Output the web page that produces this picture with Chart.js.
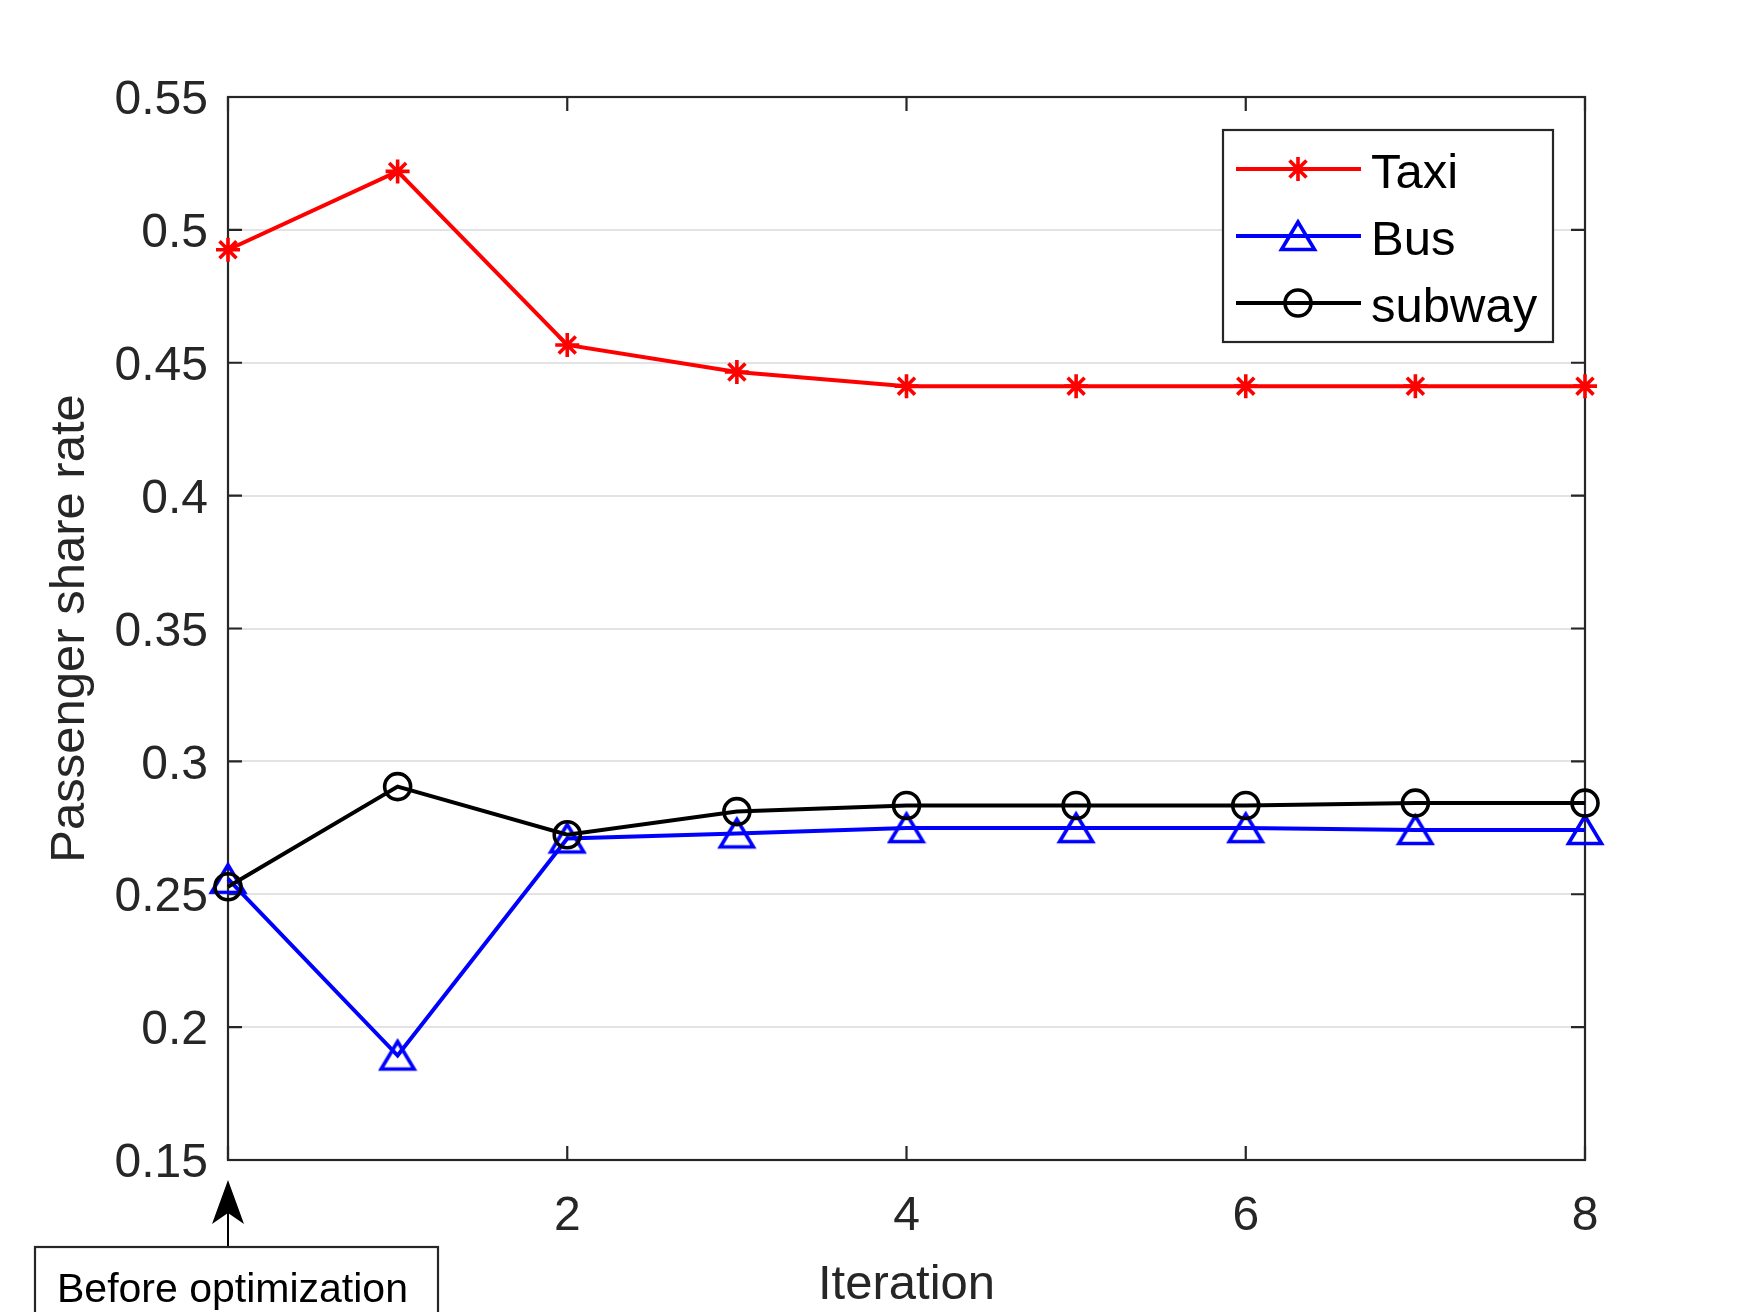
<!DOCTYPE html>
<html>
<head>
<meta charset="utf-8">
<script src="https://cdn.jsdelivr.net/npm/chart.js@4/dist/chart.umd.min.js"></script>
<style>
  html, body { margin: 0; padding: 0; background: #ffffff; }
  #c { display: block; }
</style>
</head>
<body>
<canvas id="c" width="1750" height="1312"></canvas>
<script>
// ---- data ----
const iterations = [0, 1, 2, 3, 4, 5, 6, 7, 8];
const taxiShare = [0.4925, 0.5220, 0.4567, 0.4465, 0.4412, 0.4412, 0.4412, 0.4412, 0.4412];
const busShare = [0.2558, 0.1893, 0.2710, 0.2729, 0.2749, 0.2749, 0.2749, 0.2742, 0.2742];
const subwayShare = [0.2528, 0.2905, 0.2724, 0.2811, 0.2834, 0.2834, 0.2834, 0.2843, 0.2843];
const seriesNames = ['Taxi', 'Bus', 'subway'];
const xTicks = [0, 2, 4, 6, 8];
const xTickLabels = ['', '2', '4', '6', '8'];
const yTicks = [0.15, 0.2, 0.25, 0.3, 0.35, 0.4, 0.45, 0.5, 0.55];
const yTickLabels = ['0.15', '0.2', '0.25', '0.3', '0.35', '0.4', '0.45', '0.5', '0.55'];
const xTitle = 'Iteration';
const yTitle = 'Passenger share rate';
const annotationText = 'Before optimization';

// ---- styles ----
const AXIS = '#262626';
const FONT = '"Liberation Sans", Arial, Helvetica, sans-serif';
const LW = 4;
const MW = 3.6;

function makeTriangle(color) {
  const c = document.createElement('canvas');
  c.width = 40; c.height = 36;
  const g = c.getContext('2d');
  g.strokeStyle = color;
  g.lineWidth = MW;
  g.lineJoin = 'miter';
  g.beginPath();
  g.moveTo(20, 4);
  g.lineTo(3.5, 31.5);
  g.lineTo(36.5, 31.5);
  g.closePath();
  g.stroke();
  return c;
}
const triImg = makeTriangle('#0000ff');

const pts = (arr) => iterations.map((x, i) => ({ x: x, y: arr[i] }));

const datasets = [
  { label: seriesNames[0], data: pts(taxiShare), borderColor: '#ff0000', backgroundColor: 'rgba(0,0,0,0)',
    pointStyle: 'star', pointRadius: 12, pointBorderWidth: MW, pointBorderColor: '#ff0000',
    pointBackgroundColor: 'rgba(0,0,0,0)', borderWidth: LW, order: 2 },
  { label: seriesNames[1], data: pts(busShare), borderColor: '#0000ff', backgroundColor: 'rgba(0,0,0,0)',
    pointStyle: triImg, pointRadius: 16, pointBorderWidth: MW, pointBorderColor: '#0000ff',
    pointBackgroundColor: 'rgba(0,0,0,0)', borderWidth: LW, order: 1 },
  { label: seriesNames[2], data: pts(subwayShare), borderColor: '#000000', backgroundColor: 'rgba(0,0,0,0)',
    pointStyle: 'circle', pointRadius: 13, pointBorderWidth: MW, pointBorderColor: '#000000',
    pointBackgroundColor: 'rgba(0,0,0,0)', borderWidth: LW, order: 0 }
];
datasets.forEach(d => { d.tension = 0; d.clip = false; d.fill = false; d.pointHoverRadius = d.pointRadius; });

// frame + inward ticks
const framePlugin = {
  id: 'frame',
  beforeDatasetsDraw(chart) {
    const { ctx, chartArea: a, scales } = chart;
    const xs = scales.x, ys = scales.y;
    ctx.save();
    ctx.strokeStyle = AXIS;
    ctx.lineWidth = 2.2;
    ctx.strokeRect(a.left, a.top, a.right - a.left, a.bottom - a.top);
    const tl = 14;
    ctx.beginPath();
    yTicks.forEach(v => {
      const py = ys.getPixelForValue(v);
      ctx.moveTo(a.left, py); ctx.lineTo(a.left + tl, py);
      ctx.moveTo(a.right, py); ctx.lineTo(a.right - tl, py);
    });
    xTicks.forEach(v => {
      const px = xs.getPixelForValue(v);
      ctx.moveTo(px, a.bottom); ctx.lineTo(px, a.bottom - tl);
      ctx.moveTo(px, a.top); ctx.lineTo(px, a.top + tl);
    });
    ctx.stroke();
    ctx.restore();
  }
};

function drawMarker(ctx, ds, x, y) {
  ctx.save();
  ctx.strokeStyle = ds.pointBorderColor;
  ctx.lineWidth = ds.pointBorderWidth;
  const r = ds.pointRadius;
  if (ds.pointStyle === 'star') {
    ctx.beginPath();
    ctx.moveTo(x, y - r); ctx.lineTo(x, y + r);
    ctx.moveTo(x - r, y); ctx.lineTo(x + r, y);
    const o = Math.cos(Math.PI / 4) * r;
    ctx.moveTo(x - o, y - o); ctx.lineTo(x + o, y + o);
    ctx.moveTo(x - o, y + o); ctx.lineTo(x + o, y - o);
    ctx.stroke();
  } else if (ds.pointStyle === 'circle') {
    ctx.beginPath();
    ctx.arc(x, y, r, 0, Math.PI * 2);
    ctx.stroke();
  } else {
    const img = ds.pointStyle;
    ctx.drawImage(img, x - img.width / 2, y - img.height / 2);
  }
  ctx.restore();
}

const legendPlugin = {
  id: 'boxLegend',
  afterDraw(chart) {
    const ctx = chart.ctx;
    const L = 1223, T = 130, R = 1553, B = 342;
    ctx.save();
    ctx.fillStyle = '#ffffff';
    ctx.fillRect(L, T, R - L, B - T);
    ctx.strokeStyle = AXIS;
    ctx.lineWidth = 2.2;
    ctx.strokeRect(L, T, R - L, B - T);
    const rows = [169, 236, 303];
    chart.data.datasets.forEach((ds, i) => {
      const y = rows[i];
      ctx.strokeStyle = ds.borderColor;
      ctx.lineWidth = LW;
      ctx.beginPath();
      ctx.moveTo(1236, y); ctx.lineTo(1361, y);
      ctx.stroke();
      drawMarker(ctx, ds, 1298, y);
      ctx.fillStyle = '#000000';
      ctx.font = '49px ' + FONT;
      ctx.textAlign = 'left';
      ctx.textBaseline = 'alphabetic';
      ctx.fillText(ds.label, 1371, y + 19);
    });
    ctx.restore();
  }
};

const annotationPlugin = {
  id: 'annot',
  afterDraw(chart) {
    const ctx = chart.ctx;
    const a = chart.chartArea;
    const x0 = chart.scales.x.getPixelForValue(0);
    const tip = a.bottom + 20;
    const boxTop = a.bottom + 87;
    ctx.save();
    ctx.strokeStyle = '#000000';
    ctx.fillStyle = '#000000';
    ctx.lineWidth = 2;
    ctx.beginPath();
    ctx.moveTo(x0, boxTop); ctx.lineTo(x0, tip + 30);
    ctx.stroke();
    ctx.beginPath();
    ctx.moveTo(x0, tip);
    ctx.lineTo(x0 - 16, tip + 44);
    ctx.lineTo(x0, tip + 33);
    ctx.lineTo(x0 + 16, tip + 44);
    ctx.closePath();
    ctx.fill();
    ctx.strokeStyle = AXIS;
    ctx.lineWidth = 2.2;
    ctx.strokeRect(35, boxTop, 403, 90);
    ctx.fillStyle = '#000000';
    ctx.font = '41px ' + FONT;
    ctx.textAlign = 'left';
    ctx.textBaseline = 'alphabetic';
    ctx.fillText(annotationText, 57, boxTop + 55);
    ctx.restore();
  }
};

new Chart(document.getElementById('c'), {
  type: 'line',
  data: { datasets: datasets },
  options: {
    responsive: false,
    devicePixelRatio: 1,
    animation: false,
    events: [],
    layout: { padding: { left: 0, right: 165, top: 97, bottom: 0 } },
    plugins: { legend: { display: false }, tooltip: { enabled: false } },
    scales: {
      x: {
        type: 'linear', min: 0, max: 8,
        afterBuildTicks: (s) => { s.ticks = xTicks.map(v => ({ value: v })); },
        afterFit: (s) => { s.height = 152; },
        grid: { display: false, drawTicks: false },
        border: { display: false },
        ticks: {
          color: AXIS, padding: 28, maxRotation: 0, autoSkip: false,
          font: { family: FONT, size: 48 },
          callback: (v) => { const i = xTicks.indexOf(v); return i >= 0 ? xTickLabels[i] : ''; }
        },
        title: { display: true, text: xTitle, color: AXIS, font: { family: FONT, size: 49, lineHeight: 1.1 }, padding: { top: 0, bottom: 0 } }
      },
      y: {
        type: 'linear', min: 0.15, max: 0.55,
        afterBuildTicks: (s) => { s.ticks = yTicks.map(v => ({ value: v })); },
        afterFit: (s) => { s.width = 228; },
        grid: { display: true, color: '#e3e3e3', lineWidth: 2, drawTicks: false },
        border: { display: false },
        ticks: {
          color: AXIS, padding: 20, autoSkip: false, labelOffset: 4,
          font: { family: FONT, size: 48 },
          callback: (v) => { const i = yTicks.findIndex(t => Math.abs(t - v) < 1e-9); return i >= 0 ? yTickLabels[i] : ''; }
        },
        title: { display: true, text: yTitle, color: AXIS, font: { family: FONT, size: 49 }, padding: { top: 41, bottom: 0 } }
      }
    }
  },
  plugins: [framePlugin, legendPlugin, annotationPlugin]
});
</script>
</body>
</html>
